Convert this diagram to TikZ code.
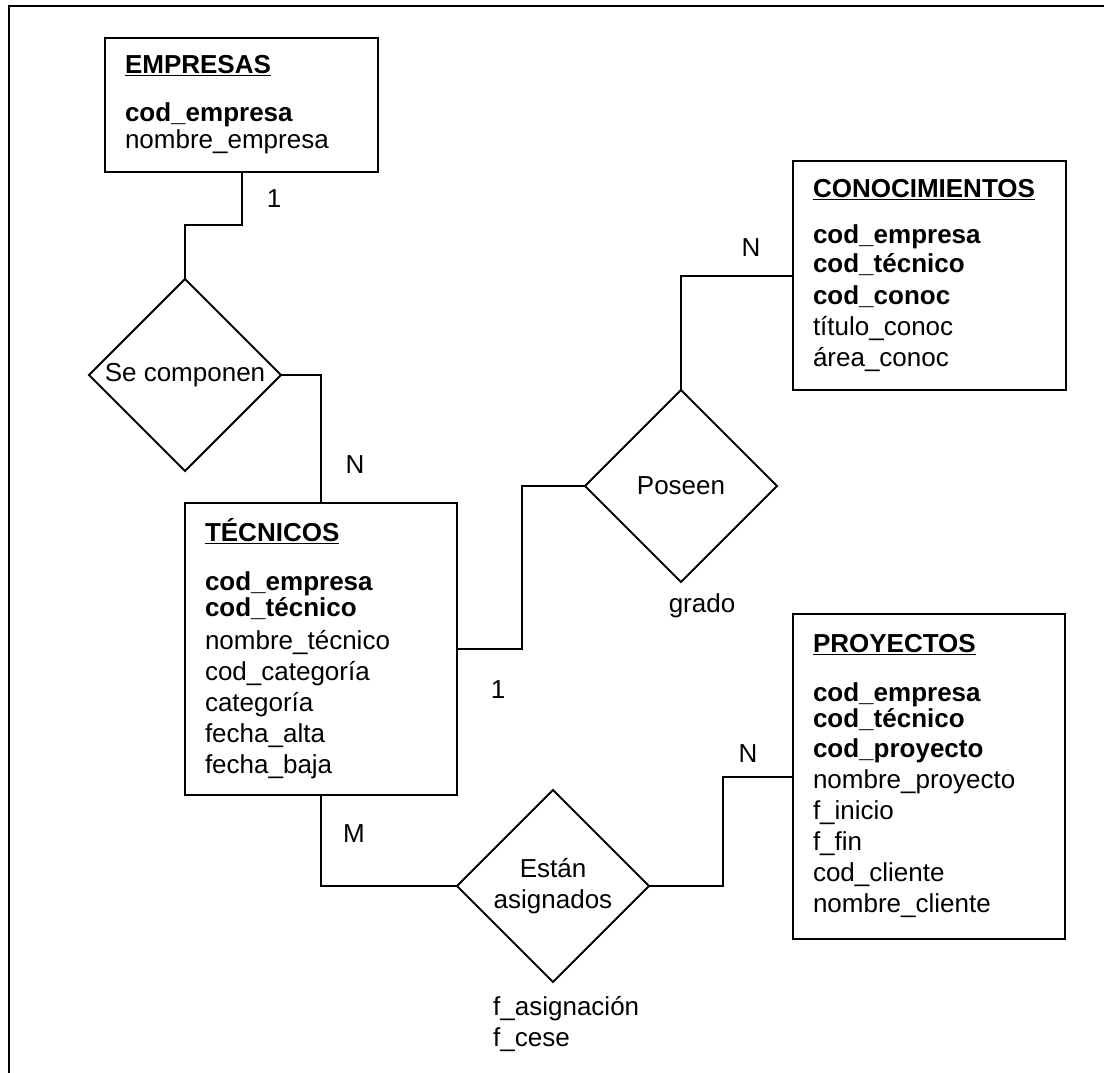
\documentclass[tikz,border=0pt]{standalone}
\usepackage{fontspec}
\setmainfont{Liberation Sans}
\usetikzlibrary{shapes.geometric, positioning}

\begin{document}
\begin{tikzpicture}[
        x=1pt, y=-1pt,
        every node/.style={font=\fontsize{26}{31}\selectfont},
        entidad/.style={draw, line width=2pt, anchor=north west, align=left, inner xsep=20pt, inner ysep=0pt, outer sep=0pt},
        relacion/.style={draw, diamond, line width=2pt, inner sep=0pt, outer sep=0pt, minimum width=192pt, minimum height=192pt, align=center},
        linea/.style={line width=2pt},
        card/.style={anchor=base, inner sep=0pt}
    ]
    \useasboundingbox (0,0) rectangle (1104,1073);
    \draw[line width=2.5pt] (9,1073) -- (9,6) -- (1104,6);

    % Entidades
    \node[entidad, minimum width=273pt, minimum height=134pt, text width=233pt] (empresas) at (105,38)
        {\underline{\textbf{EMPRESAS}}\\[17pt] \textbf{cod\_empresa}\\[-4pt] nombre\_empresa};
    \node[entidad, minimum width=273pt, minimum height=229pt, text width=233pt] (conoc) at (793,161)
        {\underline{\textbf{CONOCIMIENTOS}}\\[15pt] \textbf{cod\_empresa}\\[-2pt] \textbf{cod\_técnico}\\[1pt] \textbf{cod\_conoc}\\ título\_conoc\\ área\_conoc};
    \node[entidad, minimum width=272pt, minimum height=292pt, text width=232pt] (tecnicos) at (185,503)
        {\underline{\textbf{TÉCNICOS}}\\[18pt] \textbf{cod\_empresa}\\[-5pt] \textbf{cod\_técnico}\\[2pt] nombre\_técnico\\ cod\_categoría\\ categoría\\ fecha\_alta\\ fecha\_baja};
    \node[entidad, minimum width=272pt, minimum height=325pt, text width=232pt] (proy) at (793,614)
        {\underline{\textbf{PROYECTOS}}\\[18pt] \textbf{cod\_empresa}\\[-5pt] \textbf{cod\_técnico}\\[-1pt] \textbf{cod\_proyecto}\\ nombre\_proyecto\\ f\_inicio\\ f\_fin\\ cod\_cliente\\ nombre\_cliente};

    % Relaciones
    \node[relacion] (secomp) at (185,375) {Se componen};
    \node[relacion] (poseen) at (681,486) {Poseen};
    \node[relacion] (estan) at (553,886) {Están\\asignados};

    % Conexiones
    \draw[linea] (empresas.south) -- ++(0,53) -| (secomp.north);
    \draw[linea] (secomp.east) -| (tecnicos.north);
    \draw[linea] (tecnicos.east) -- ++(65,0) |- (poseen.west);
    \draw[linea] (poseen.north) |- (conoc.west);
    \draw[linea] (tecnicos.south) |- (estan.west);
    \draw[linea] (estan.east) -- ++(74,0) |- (proy.west);

    % Cardinalidades y atributos
    \node[card] (c1) at (274,207) {1};
    \node[card] (c2) at (355,473) {N};
    \node[card] (c3) at (498,698) {1};
    \node[card] (c4) at (751,256) {N};
    \node[card] (c5) at (748,762) {N};
    \node[card] (c6) at (354,842) {M};
    \node[card] (grado) at (702,612) {grado};
    \node[anchor=north west, align=left, inner sep=0pt] (atrib) at (493,996) {f\_asignación\\f\_cese};
\end{tikzpicture}
\end{document}
